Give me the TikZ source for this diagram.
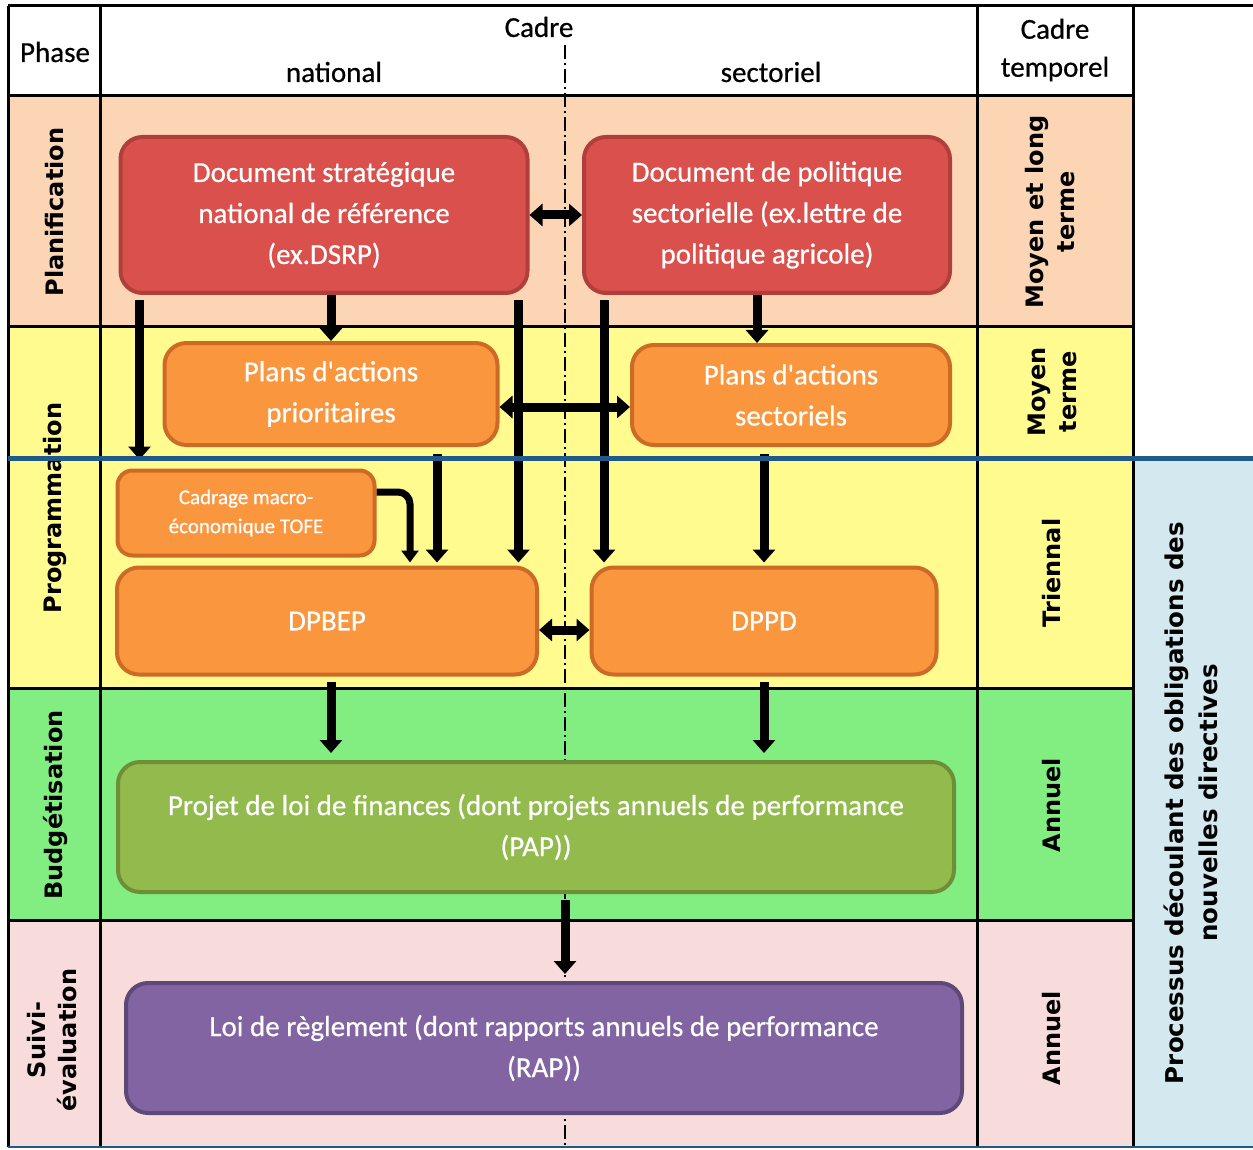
\documentclass[tikz,border=0pt]{standalone}
\usepackage{fontspec}
\usetikzlibrary{positioning}
\usetikzlibrary{calc}
\usetikzlibrary{arrows.meta}
\newfontfamily\calfont[FakeBold=0.6]{Carlito}
\newfontfamily\verfont{DejaVu Sans}
\definecolor{planifbg}{HTML}{FCD5B5}
\definecolor{progbg}{HTML}{FFFB8F}
\definecolor{budgbg}{HTML}{82EE82}
\definecolor{suivibg}{HTML}{F8DCDC}
\definecolor{directbg}{HTML}{D3E9EF}
\definecolor{rulebl}{HTML}{1F5A8A}
\definecolor{docred}{HTML}{D9504D}
\definecolor{docredline}{HTML}{B03E3B}
\definecolor{planor}{HTML}{F9963E}
\definecolor{planorline}{HTML}{CC6A26}
\definecolor{lfgreen}{HTML}{92BA4D}
\definecolor{lfgreenline}{HTML}{6F8F37}
\definecolor{lrpurple}{HTML}{8364A2}
\definecolor{lrpurpleline}{HTML}{5E4878}

\begin{document}
\begin{tikzpicture}[x=1pt, y=-1pt, text centered,
    box/.style={draw, rounded corners=22pt, line width=4pt, text=white, align=center, inner sep=0pt, font=\calfont\fontsize{29}{41}\selectfont},
    vlabel/.style={rotate=90, align=center, font=\verfont\bfseries\fontsize{24}{31}\selectfont},
    hlabel/.style={align=center, font=\calfont\fontsize{29}{38}\selectfont},
    flow/.style={-{Triangle[width=22pt, length=13pt]}, line width=9pt},
    twoway/.style={{Triangle[width=22pt, length=13pt]}-{Triangle[width=22pt, length=13pt]}, line width=9pt},
    elbow/.style={-{Triangle[width=17pt, length=12pt]}, line width=7pt, rounded corners=12pt}]

        \useasboundingbox (0,0) rectangle (1253,1150);

        \fill[planifbg] (8,96) rectangle (1133,327);
        \fill[progbg] (8,327) rectangle (1133,688);
        \fill[budgbg] (8,688) rectangle (1133,920);
        \fill[suivibg] (8,920) rectangle (1133,1147);
        \fill[directbg] (1133,458) rectangle (1253,1147);

        \draw[line width=3pt] (8,6) -- (1253,6);
        \draw[line width=3pt] (8,6) -- (8,1147);
        \draw[line width=3pt] (100,6) -- (100,1147);
        \draw[line width=3pt] (977,6) -- (977,1147);
        \draw[line width=3pt] (1133,6) -- (1133,1147);
        \foreach \y in {96, 327, 688, 920}
            \draw[line width=3pt] (8,\y) -- (1133,\y);
        \draw[line width=2pt, rulebl] (8,1147) -- (1253,1147);
        \draw[dash pattern=on 14pt off 4pt on 2pt off 4pt, line width=1.2pt] (565,45) -- (565,1147);

        \node[hlabel] (phase) at (55,52) {Phase};
        \node[hlabel] (cadre) at (539,27) {Cadre};
        \node[hlabel] (national) at (334,72) {national};
        \node[hlabel] (sectoriel) at (771,72) {sectoriel};
        \node[hlabel] (temporel) at (1055,50) {Cadre\\temporel};

        \node[vlabel] (phase_1) at (55,212) {Planification};
        \node[vlabel] (phase_2) at (55,508) {Programmation};
        \node[vlabel] (phase_3) at (55,805) {Budgétisation};
        \node[vlabel] (phase_4) at (52,1040) {Suivi-\\évaluation};

        \node[vlabel] (temps_1) at (1050,212) {Moyen et long\\terme};
        \node[vlabel] (temps_2) at (1052,392) {Moyen\\terme};
        \node[vlabel] (temps_3) at (1052,573) {Triennal};
        \node[vlabel] (temps_4) at (1052,805) {Annuel};
        \node[vlabel] (temps_5) at (1052,1038) {Annuel};

        \node[vlabel, font=\verfont\bfseries\fontsize{24.5}{34}\selectfont] (directives) at (1191,803) {Processus découlant des obligations des\\nouvelles directives};

        \node[box, fill=docred, draw=docredline, minimum width=407pt, minimum height=156pt] (doc_nat) at (324,215) {Document stratégique\\national de référence\\(ex.DSRP)};
        \node[box, fill=docred, draw=docredline, minimum width=366pt, minimum height=156pt] (doc_sec) at (767,215) {Document de politique\\sectorielle (ex.lettre de\\politique agricole)};
        \node[box, fill=planor, draw=planorline, minimum width=333pt, minimum height=102pt] (plan_prio) at (331,394) {Plans d'actions\\prioritaires};
        \node[box, fill=planor, draw=planorline, minimum width=318pt, minimum height=100pt] (plan_sec) at (791,395) {Plans d'actions\\sectoriels};
        \node[box, fill=planor, draw=planorline, rounded corners=15pt, minimum width=257pt, minimum height=85pt, font=\calfont\fontsize{21}{29}\selectfont] (cadrage) at (246,513) {Cadrage macro-\\économique TOFE};
        \node[box, fill=planor, draw=planorline, minimum width=420pt, minimum height=107pt] (dpbep) at (327,621) {DPBEP};
        \node[box, fill=planor, draw=planorline, minimum width=345pt, minimum height=107pt] (dppd) at (764,621) {DPPD};
        \node[box, fill=lfgreen, draw=lfgreenline, minimum width=836pt, minimum height=130pt] (plf) at (536,827) {Projet de loi de finances (dont projets annuels de performance\\(PAP))};
        \node[box, fill=lrpurple, draw=lrpurpleline, minimum width=836pt, minimum height=130pt] (lr) at (544,1048) {Loi de règlement (dont rapports annuels de performance\\(RAP))};

        \draw[twoway] (doc_nat) -- (doc_sec);
        \draw[flow] (plan_prio.north |- doc_nat.south) -- (plan_prio.north);
        \draw[flow] ([xshift=-10pt]doc_sec.south) -- ([xshift=-10pt]doc_sec.south |- plan_sec.north);
        \draw[flow] ([xshift=21pt, yshift=-5pt]doc_nat.south west) -- ([xshift=21pt, yshift=9pt]doc_nat.south west |- cadrage.north);
        \draw[flow] ([xshift=-11pt, yshift=-5pt]doc_nat.south east) -- ([xshift=-11pt, yshift=3pt]doc_nat.south east |- dpbep.north);
        \draw[flow] ([xshift=22pt, yshift=-5pt]doc_sec.south west) -- ([xshift=22pt, yshift=3pt]doc_sec.south west |- dppd.north);
        \draw[twoway] ([yshift=-13pt]plan_prio.east) -- ([yshift=-13pt]plan_prio.east -| plan_sec.west);
        \draw[flow] ([xshift=106pt, yshift=-7pt]plan_prio.south) -- ([xshift=106pt, yshift=3pt]plan_prio.south |- dpbep.north);
        \draw[flow] ([yshift=-7pt]dppd.north |- plan_sec.south) -- ([yshift=3pt]dppd.north);
        \draw[elbow] ([yshift=21pt]cadrage.east) -| ([xshift=83pt, yshift=3pt]dpbep.north);
        \draw[twoway] ([yshift=-9pt]dpbep.east) -- ([yshift=-9pt]dpbep.east -| dppd.west);
        \draw[flow] ([xshift=4pt, yshift=-5pt]dpbep.south) -- ([xshift=4pt, yshift=7pt]dpbep.south |- plf.north);
        \draw[flow] ([yshift=-5pt]dppd.south) -- ([yshift=7pt]dppd.south |- plf.north);
        \draw[flow] ([xshift=29pt, yshift=-6pt]plf.south) -- ([xshift=29pt, yshift=7pt]plf.south |- lr.north);

        \draw[line width=5pt, rulebl] (8,458) -- (1253,458);

\end{tikzpicture}
\end{document}
